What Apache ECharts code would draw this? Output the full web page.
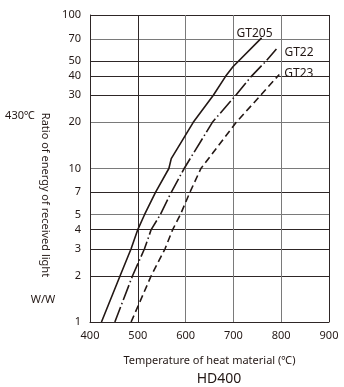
<!DOCTYPE html>
<html>
<head>
<meta charset="utf-8">
<script src="https://cdn.jsdelivr.net/npm/echarts@6/dist/echarts.min.js"></script>
<style>
  html, body { margin: 0; padding: 0; background: #fff; }
  #chart { width: 344px; height: 387px; }
</style>
</head>
<body>
<div id="chart"></div>
<script>
// readings
const seriesNames = ['GT205', 'GT22', 'GT23'];
const temps205 = [424, 463, 486, 500, 514, 537, 565, 570, 616, 658, 684, 699, 759];
const ratio205 = [1, 2, 3, 4, 5, 7, 10, 11.6, 20, 30, 40, 46, 71];
const temps22 = [452, 489, 514, 528, 547, 570, 597, 656, 705, 738, 768, 790];
const ratio22 = [1, 2, 3, 4, 5, 7, 10, 20, 30, 40, 50, 60];
const temps23 = [486, 528, 557, 573, 589, 609, 632, 706, 757, 796];
const ratio23 = [1, 2, 3, 4, 5, 7, 10, 20, 30, 41];
const xTicks = [400, 500, 600, 700, 800, 900];
const yTicks = [1, 2, 3, 4, 5, 7, 10, 20, 30, 40, 50, 70, 100];

const ink = '#231815';
const dark = '#2e2626';
const gray = '#7a7a7a';
const font = 'Noto Sans';

function pairs(xs, ys) {
  return xs.map((x, i) => [x, ys[i]]);
}

const chart = echarts.init(document.getElementById('chart'));

let lineBase = {
  type: 'line',
  symbol: 'none',
  silent: true,
  animation: false,
  lineStyle: { color: ink, width: 1.6 }
};

chart.setOption({
  backgroundColor: '#fff',
  animation: false,
  grid: { left: 90, right: 15, top: 15, bottom: 65 },
  xAxis: {
    type: 'value',
    min: 400,
    max: 900,
    interval: 100,
    name: 'Temperature of heat material (℃)',
    nameLocation: 'middle',
    nameGap: 33,
    nameTextStyle: { color: ink, fontFamily: font, fontSize: 11 },
    axisLine: { show: true, lineStyle: { color: dark, width: 1 } },
    axisTick: { show: false },
    axisLabel: { color: ink, fontFamily: font, fontSize: 11, margin: 8 },
    splitLine: {
      show: true,
      lineStyle: { color: [dark, dark, gray, gray, gray, dark], width: 1 }
    }
  },
  yAxis: {
    type: 'log',
    logBase: 10,
    min: 1,
    max: 100,
    axisLine: { show: true, lineStyle: { color: dark, width: 1 } },
    axisTick: { show: false, customValues: yTicks },
    axisLabel: {
      color: ink, fontFamily: font, fontSize: 11, margin: 9,
      customValues: yTicks
    },
    splitLine: {
      show: true,
      lineStyle: {
        color: [dark, dark, dark, dark, gray, dark, gray, gray, dark, dark, dark, gray, dark],
        width: 1
      }
    }
  },
  graphic: [
    {
      type: 'text', x: 45, y: 195, rotation: -Math.PI / 2,
      style: {
        text: 'Ratio of energy of received light',
        fill: ink, font: '11px "Noto Sans"', align: 'center', verticalAlign: 'middle'
      }
    },
    {
      type: 'text', x: 20, y: 116,
      style: { text: '430℃', fill: ink, font: '11px "Noto Sans"', align: 'center', verticalAlign: 'middle' }
    },
    {
      type: 'text', x: 43, y: 300,
      style: { text: 'W/W', fill: ink, font: '11px "Noto Sans"', align: 'center', verticalAlign: 'middle' }
    },
    {
      type: 'text', x: 219, y: 379,
      style: { text: 'HD400', fill: ink, font: '14px "Noto Sans"', align: 'center', verticalAlign: 'middle' }
    }
  ],
  series: [
    Object.assign({}, lineBase, {
      name: seriesNames[0],
      data: pairs(temps205, ratio205),
      endLabel: {
        show: true, formatter: '{a}', color: ink, fontFamily: font, fontSize: 12,
        distance: 0, align: 'center', verticalAlign: 'middle', offset: [-7, -4]
      }
    }),
    Object.assign({}, lineBase, {
      name: seriesNames[1],
      data: pairs(temps22, ratio22),
      lineStyle: { color: ink, width: 1.6, type: [16, 3, 1.5, 3] },
      endLabel: {
        show: true, formatter: '{a}', color: ink, fontFamily: font, fontSize: 12,
        distance: 8, offset: [0, 4]
      }
    }),
    Object.assign({}, lineBase, {
      name: seriesNames[2],
      data: pairs(temps23, ratio23),
      lineStyle: { color: ink, width: 1.6, type: [7, 4] },
      endLabel: {
        show: true, formatter: '{a}', color: ink, fontFamily: font, fontSize: 12,
        distance: 5, offset: [0, -1]
      }
    })
  ]
});
</script>
</body>
</html>
